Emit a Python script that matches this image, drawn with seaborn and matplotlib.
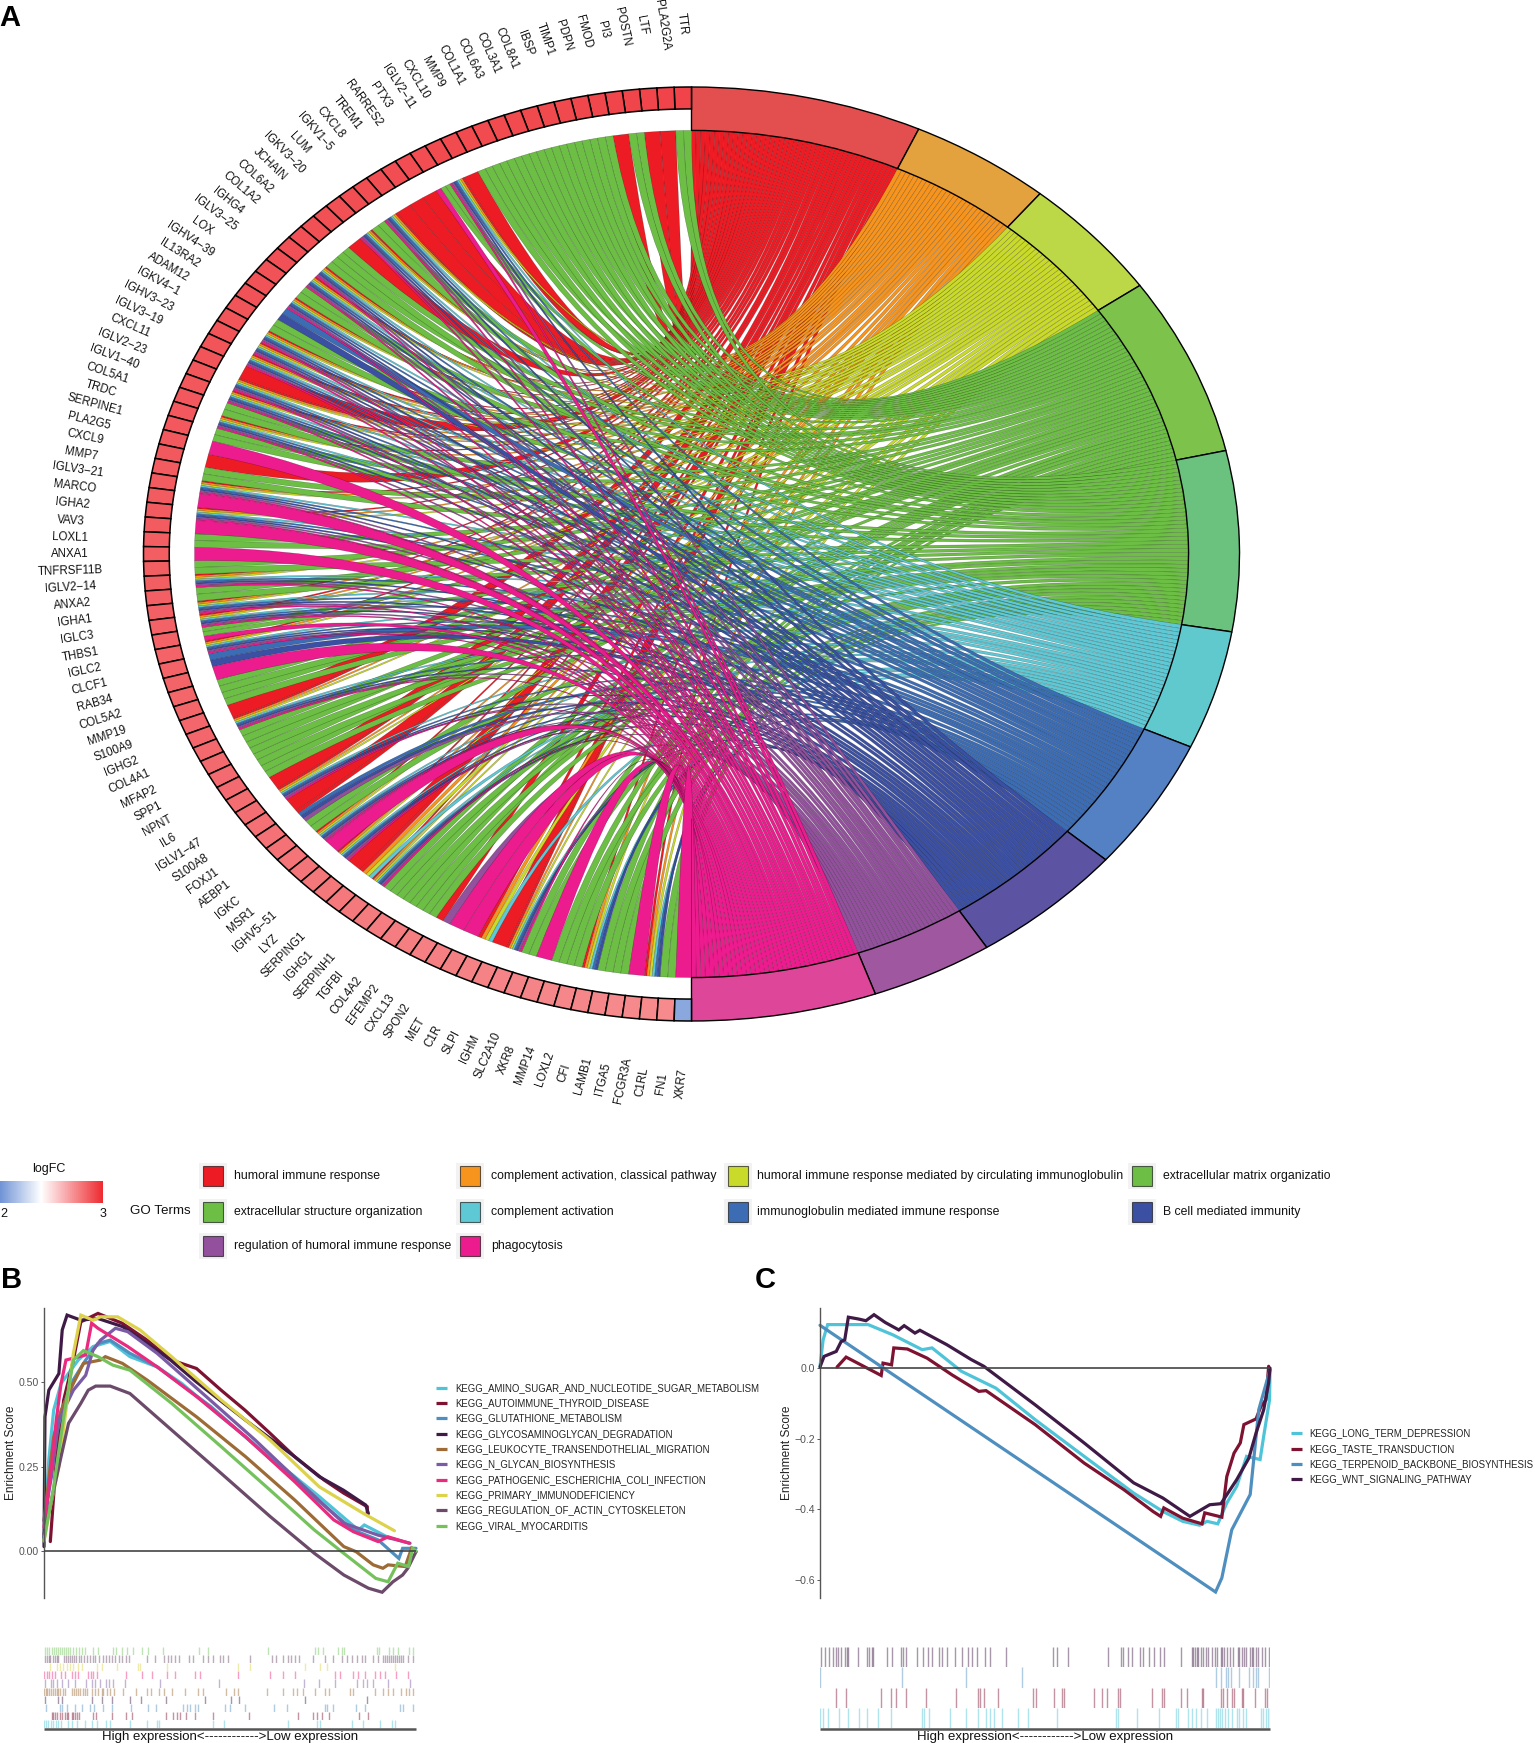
import numpy as np
import seaborn as sns
import matplotlib.pyplot as plt
from matplotlib.colors import LinearSegmentedColormap
from matplotlib.patches import PathPatch, Rectangle, Wedge
from matplotlib.path import Path

# ---- panel A data ----
terms = ["humoral immune response", "complement activation, classical pathway",
         "humoral immune response mediated by circulating immunoglobulin", "extracellular matrix organizatio",
         "extracellular structure organization", "complement activation", "immunoglobulin mediated immune response",
         "B cell mediated immunity", "regulation of humoral immune response", "phagocytosis"]
term_keys = "abcdefghij"
term_span = [24.5, 15.0, 15.4, 22.3, 22.4, 14.8, 16.5, 16.5, 13.0, 19.6]
ribbon_colors = ["#ED1C24", "#F7941D", "#C9DA2A", "#6CBE45", "#6CBE45", "#5FC8D5", "#3C6DB4", "#3C50A3", "#93509D", "#EC1C8E"]
arc_colors = ["#E34E4F", "#E4A23F", "#BDD847", "#7DC24A", "#6BC27E", "#60C9CE", "#5480C4", "#5D53A3", "#9F58A0", "#DE4799"]

ig = "abcfghij"
ecm = "de"
genes = ["TTR", "PLA2G2A", "LTF", "POSTN", "PI3", "FMOD", "PDPN", "TIMP1", "IBSP", "COL8A1",
         "COL3A1", "COL6A3", "COL1A1", "MMP9", "CXCL10", "IGLV2−11", "PTX3", "RARRES2", "TREM1", "CXCL8",
         "IGKV1−5", "LUM", "IGKV3−20", "JCHAIN", "COL6A2", "COL1A2", "IGHG4", "IGLV3−25", "LOX", "IGHV4−39",
         "IL13RA2", "ADAM12", "IGKV4−1", "IGHV3−23", "IGLV3−19", "CXCL11", "IGLV2−23", "IGLV1−40", "COL5A1", "TRDC",
         "SERPINE1", "PLA2G5", "CXCL9", "MMP7", "IGLV3−21", "MARCO", "IGHA2", "VAV3", "LOXL1", "ANXA1",
         "TNFRSF11B", "IGLV2−14", "ANXA2", "IGHA1", "IGLC3", "THBS1", "IGLC2", "CLCF1", "RAB34", "COL5A2",
         "MMP19", "S100A9", "IGHG2", "COL4A1", "MFAP2", "SPP1", "NPNT", "IL6", "IGLV1−47", "S100A8",
         "FOXJ1", "AEBP1", "IGKC", "MSR1", "IGHV5−51", "LYZ", "SERPING1", "IGHG1", "SERPINH1", "TGFBI",
         "COL4A2", "EFEMP2", "CXCL13", "SPON2", "MET", "C1R", "SLPI", "IGHM", "SLC2A10", "XKR8",
         "MMP14", "LOXL2", "CFI", "LAMB1", "ITGA5", "FCGR3A", "C1RL", "FN1", "XKR7"]
gene_terms = [ecm, "a", "a", ecm, "a", ecm, ecm, ecm, ecm, ecm,
              ecm, ecm, ecm, ecm, "a", ig, "dej", "a", "a", "a",
              ig, ecm, ig, "a", ecm, ecm, ig, ig, ecm, ig,
              "gh", ecm, ig, ig, ig, "a", ig, ig, ecm, ig,
              ecm, "j", "a", ecm, ig, "j", ig, "j", ecm, "j",
              ecm, ig, ecm, ig, ig, "dej", ig, "gh", "j", ecm,
              ecm, "a", ig, ecm, ecm, ecm, ecm, "a", ig, "a",
              "aghi", ecm, ig, "j", ig, "a", "abcf", ig, ecm, ecm,
              ecm, ecm, "ai", "j", "j", "abcf", "a", ig, ecm, "j",
              ecm, ecm, "abcfgh", ecm, ecm, "j", "abcfgh", ecm, "j"]
gene_logfc = [2.62, 2.61, 2.60, 2.60, 2.59, 2.58, 2.58, 2.57, 2.56, 2.56,
              2.55, 2.54, 2.54, 2.53, 2.52, 2.52, 2.51, 2.50, 2.50, 2.49,
              2.48, 2.48, 2.47, 2.46, 2.46, 2.45, 2.44, 2.44, 2.43, 2.42,
              2.42, 2.41, 2.40, 2.40, 2.39, 2.38, 2.37, 2.36, 2.35, 2.34,
              2.34, 2.33, 2.32, 2.31, 2.30, 2.29, 2.28, 2.28, 2.27, 2.26,
              2.25, 2.24, 2.23, 2.22, 2.21, 2.20, 2.19, 2.18, 2.17, 2.16,
              2.15, 2.14, 2.13, 2.12, 2.10, 2.08, 2.07, 2.06, 2.04, 2.02,
              2.00, 1.98, 1.96, 1.94, 1.92, 1.91, 1.90, 1.88, 1.86, 1.84,
              1.83, 1.82, 1.80, 1.79, 1.78, 1.76, 1.75, 1.74, 1.73, 1.72,
              1.71, 1.70, 1.69, 1.68, 1.67, 1.66, 1.65, 1.64, -1.60]

# ---- panel B data, x is % of ranked list ----
b_names = ["KEGG_AMINO_SUGAR_AND_NUCLEOTIDE_SUGAR_METABOLISM", "KEGG_AUTOIMMUNE_THYROID_DISEASE", "KEGG_GLUTATHIONE_METABOLISM",
           "KEGG_GLYCOSAMINOGLYCAN_DEGRADATION", "KEGG_LEUKOCYTE_TRANSENDOTHELIAL_MIGRATION", "KEGG_N_GLYCAN_BIOSYNTHESIS",
           "KEGG_PATHOGENIC_ESCHERICHIA_COLI_INFECTION", "KEGG_PRIMARY_IMMUNODEFICIENCY", "KEGG_REGULATION_OF_ACTIN_CYTOSKELETON",
           "KEGG_VIRAL_MYOCARDITIS"]
b_colors = ["#4FC4D8", "#7D1231", "#4F8FBF", "#3F1A46", "#9C6B36", "#7A5BA5", "#EA2A7E", "#DCD24B", "#6B4A6A", "#75C25D"]

amino_x = [0, 1.3, 2.6, 4.6, 9.2, 13.2, 17.8, 23.1, 30.4, 37, 47.6, 60.8, 74, 84.5, 86.1, 93.1]
amino_y = [.04, .27, .417, .496, .565, .605, .62, .575, .545, .496, .397, .279, .161, .062, .077, .037]
thyroid_x = [1.7, 3.3, 5.3, 7.9, 9.9, 14.5, 21, 27.7, 34.3, 41, 47.6, 54, 60.8, 67.4, 75.3, 80.6, 86.9, 86.9]
thyroid_y = [.028, .27, .447, .565, .678, .703, .674, .624, .565, .54, .476, .417, .348, .279, .21, .171, .131, .111]
gluta_x = [0, 2, 4.6, 7.3, 11.2, 14.5, 17.8, 23.1, 30.4, 44.9, 58.1, 71.3, 83.2, 89.8, 95.4, 96.4, 100]
gluta_y = [.03, .28, .407, .496, .565, .614, .624, .585, .545, .427, .299, .171, .062, .033, -.022, .008, .008]
gag_x = [0, .26, 1.3, 4, 4.9, 6.2, 9.9, 14.5, 21.1, 27, 34, 41, 54.2, 67.4, 74, 80.5, 86.5, 87.2]
gag_y = [.013, .397, .476, .525, .654, .698, .683, .688, .664, .62, .565, .50, .387, .279, .22, .18, .136, .111]
leuko_x = [0, 2.6, 4.6, 7.9, 10.6, 15.2, 16.5, 21.1, 27.7, 41, 54.2, 67.4, 80.6, 83.9, 88.5, 91.1, 92.5, 97.1, 98.8, 100]
leuko_y = [.09, .338, .417, .496, .555, .565, .575, .555, .506, .397, .279, .151, .013, -.002, -.041, -.051, -.041, -.046, .008, -.002]
nglycan_x = [0, 2, 4, 7.9, 11.2, 13.2, 15.2, 19.2, 22.5, 30.4, 43.6, 56.8, 70, 80.6, 89.8, 98.4]
nglycan_y = [.09, .22, .388, .476, .52, .595, .624, .659, .649, .585, .457, .328, .19, .082, .047, .023]
coli_x = [0, 2, 3.3, 4.6, 5.9, 11.2, 12.8, 14.5, 22.5, 30.4, 41, 54.2, 67.4, 77.9, 83.2, 89.8, 92.5, 98.2]
coli_y = [.07, .25, .388, .496, .565, .58, .674, .659, .605, .545, .457, .338, .205, .092, .057, .028, .042, .023]
primary_x = [0, 1.3, 4, 5.9, 7.9, 9.9, 13.2, 15.2, 19.8, 25.8, 34.3, 47.6, 60.8, 74, 85.9, 94.2]
primary_y = [.03, .11, .25, .417, .585, .698, .683, .693, .693, .654, .575, .447, .328, .19, .111, .06]
actin_x = [0, 2, 4.6, 6.6, 9.9, 11.9, 13.9, 17.8, 23.1, 34.3, 47.6, 60.8, 72.7, 80.6, 87.2, 90.9, 93.8, 96.4, 97.8, 100]
actin_y = [.05, .15, .28, .378, .437, .476, .488, .488, .466, .358, .23, .102, -.007, -.071, -.11, -.122, -.091, -.071, -.051, -.002]
viral_x = [0, 2.6, 5.3, 7.9, 10.6, 14.5, 18.5, 23.1, 34.3, 47.6, 60.8, 72.7, 80.6, 89.2, 92.5, 95.1, 98, 99.1, 100]
viral_y = [.03, .19, .397, .565, .593, .575, .55, .535, .437, .309, .18, .062, -.007, -.081, -.091, -.036, -.046, .008, 0]
b_x = [amino_x, thyroid_x, gluta_x, gag_x, leuko_x, nglycan_x, coli_x, primary_x, actin_x, viral_x]
b_y = [amino_y, thyroid_y, gluta_y, gag_y, leuko_y, nglycan_y, coli_y, primary_y, actin_y, viral_y]

# hit positions, in rank units (12 to 1128), same order as b_names
rug_amino = [12, 18, 25, 32, 40, 47, 55, 62, 85, 95, 112, 135, 155, 170, 198, 210, 270, 322, 350, 358, 518, 552, 745, 830, 840, 935, 970, 1020, 1055, 1065]
rug_thyroid = [35, 40, 45, 50, 60, 65, 75, 80, 85, 95, 100, 105, 112, 118, 160, 168, 215, 258, 275, 378, 400, 410, 420, 437, 465, 518, 628, 775, 820, 832, 845, 868, 958, 985]
rug_gluta = [18, 60, 65, 82, 105, 125, 150, 162, 188, 215, 272, 325, 348, 430, 440, 450, 465, 475, 555, 570, 615, 702, 742, 855, 862, 880, 948, 975, 1080, 1088, 1120]
rug_gag = [15, 55, 65, 155, 185, 215, 270, 302, 378, 495, 572, 597, 795, 982]
rug_leuko = [12, 17, 22, 27, 32, 38, 45, 50, 55, 60, 70, 75, 95, 102, 108, 115, 120, 128, 135, 140, 155, 165, 175, 185, 190, 200, 210, 222, 248, 288, 320, 332, 358, 372, 395, 435, 475, 488, 558, 582, 595, 680, 730, 760, 772, 790, 825, 855, 868, 930, 938, 1005, 1030, 1045, 1060, 1082, 1098, 1108, 1118]
rug_nglycan = [15, 32, 40, 50, 65, 85, 105, 138, 155, 165, 180, 198, 208, 220, 255, 360, 537, 792, 838, 885, 950, 968, 982, 1000, 1045, 1110]
rug_coli = [12, 20, 28, 36, 45, 62, 75, 95, 105, 115, 145, 152, 158, 170, 258, 305, 335, 380, 405, 465, 480, 595, 690, 730, 765, 885, 900, 940, 955, 975, 1005, 1020, 1035, 1068, 1105]
rug_primary = [30, 50, 60, 70, 80, 90, 98, 115, 125, 170, 185, 230, 295, 300, 380, 595, 630, 795, 840, 860, 1065]
rug_actin = [14, 20, 26, 30, 38, 44, 50, 55, 72, 78, 84, 90, 96, 102, 108, 116, 124, 132, 140, 150, 158, 166, 178, 190, 198, 206, 216, 226, 236, 246, 258, 268, 320, 345, 372, 385, 392, 405, 418, 448, 460, 490, 503, 520, 540, 548, 565, 630, 695, 708, 730, 745, 752, 765, 778, 820, 855, 880, 905, 920, 935, 950, 965, 975, 1000, 1015, 1030, 1036, 1042, 1048, 1054, 1060, 1066, 1072, 1078, 1084, 1090, 1105, 1118]
rug_viral = [14, 20, 28, 35, 42, 48, 54, 60, 66, 72, 78, 84, 90, 98, 108, 118, 125, 135, 160, 175, 218, 228, 245, 260, 280, 305, 325, 370, 478, 505, 683, 825, 835, 850, 895, 905, 912, 1010, 1018, 1047, 1060, 1075, 1108, 1120]
b_rugs = [rug_amino, rug_thyroid, rug_gluta, rug_gag, rug_leuko, rug_nglycan, rug_coli, rug_primary, rug_actin, rug_viral]

# ---- panel C data ----
c_names = ["KEGG_LONG_TERM_DEPRESSION", "KEGG_TASTE_TRANSDUCTION", "KEGG_TERPENOID_BACKBONE_BIOSYNTHESIS", "KEGG_WNT_SIGNALING_PATHWAY"]
c_colors = ["#4FC4D8", "#7D1231", "#4F8FBF", "#3F1A46"]
ltd_x = [0, .7, 1.7, 5.8, 10.7, 16.2, 22.7, 24.9, 31.4, 39.1, 47.8, 58.7, 69.7, 76.2, 80.6, 84.4, 86, 88.4, 90.4, 92.6, 94.8, 97.8, 98.6, 99.9, 100]
ltd_y = [.005, .08, .123, .123, .123, .094, .052, .057, -.009, -.057, -.146, -.25, -.354, -.406, -.434, -.445, -.434, -.441, -.382, -.335, -.25, -.259, -.193, -.09, -.005]
taste_x = [3.8, 5.8, 13.6, 14, 15.9, 16.4, 19.4, 23.8, 29.3, 35.3, 36.9, 47.8, 58.7, 67.5, 74, 75.7, 76.4, 80.6, 84.9, 85.5, 89.3, 90.4, 92, 93.4, 94.2, 96.9, 98, 99.1, 99.7]
taste_y = [.003, .031, -.021, .014, .009, .057, .054, .028, -.019, -.066, -.064, -.16, -.269, -.344, -.406, -.42, -.396, -.425, -.441, -.41, -.422, -.307, -.241, -.212, -.16, -.144, -.108, -.09, .005]
terp_x = [0, 87.9, 89.3, 91.5, 95.6, 97.5, 100]
terp_y = [.121, -.634, -.594, -.458, -.358, -.118, -.005]
wnt_x = [0, .9, 3.6, 4.7, 5.5, 6.3, 8.5, 10.2, 12, 14.5, 17.5, 18.7, 21.1, 22.2, 28.2, 33.6, 36.4, 47.8, 58.7, 69.7, 76.2, 82.2, 83.8, 86.6, 89.1, 90.9, 92.6, 95.3, 96.9, 98.6, 99.7, 100]
wnt_y = [.003, .033, .047, .075, .08, .144, .139, .134, .151, .129, .108, .12, .099, .107, .066, .024, .005, -.104, -.212, -.325, -.368, -.42, -.408, -.387, -.384, -.349, -.316, -.255, -.184, -.118, -.042, 0]
c_x = [ltd_x, taste_x, terp_x, wnt_x]
c_y = [ltd_y, taste_y, terp_y, wnt_y]

# rank units 15 to 1365
rug_ltd = [15, 25, 38, 73, 100, 132, 155, 190, 228, 320, 328, 343, 405, 453, 488, 512, 525, 538, 560, 610, 640, 725, 902, 910, 967, 1033, 1083, 1090, 1118, 1132, 1142, 1158, 1175, 1202, 1208, 1215, 1222, 1230, 1240, 1250, 1265, 1272, 1285, 1292, 1338, 1345, 1352, 1358, 1365]
rug_taste = [63, 92, 198, 228, 242, 274, 332, 424, 488, 495, 508, 550, 655, 662, 718, 742, 748, 836, 862, 876, 908, 916, 1012, 1040, 1046, 1098, 1115, 1160, 1165, 1218, 1225, 1235, 1250, 1258, 1280, 1285, 1320, 1350, 1356]
rug_terp = [15, 262, 453, 622, 1203, 1218, 1232, 1240, 1248, 1272, 1303, 1315, 1322, 1330, 1362]
rug_wnt = [18, 30, 42, 55, 62, 70, 78, 90, 95, 100, 128, 155, 162, 170, 175, 215, 230, 258, 265, 272, 305, 325, 340, 350, 372, 380, 395, 420, 440, 460, 470, 485, 510, 525, 572, 715, 725, 760, 878, 918, 925, 940, 950, 975, 985, 1003, 1018, 1035, 1048, 1098, 1130, 1135, 1140, 1145, 1150, 1158, 1165, 1172, 1180, 1190, 1200, 1205, 1218, 1222, 1228, 1235, 1245, 1255, 1268, 1272, 1280, 1288, 1292, 1305, 1310, 1315, 1322, 1328, 1340, 1350, 1362]
c_rugs = [rug_ltd, rug_taste, rug_terp, rug_wnt]

sns.set_theme(style="white")
plt.rcParams['font.family'] = ['Liberation Sans', 'DejaVu Sans']

W, H = 1535, 1743
fig = plt.figure(figsize=(W / 100, H / 100), dpi=100)


def px_axes(left, top, right, bottom):
    return fig.add_axes([left / W, 1 - bottom / H, (right - left) / W, (bottom - top) / H])


# overlay in pixel coordinates for legends and loose text
pg = px_axes(0, 0, W, H)
pg.set_xlim(0, W)
pg.set_ylim(H, 0)
pg.axis("off")

# ---- A: chord plot, unit circle stretched to an ellipse by the axes ----
cx, cy, rx, ry = 691.5, 554, 548, 467
ax = px_axes(0, 0, W, 1140)
ax.set_xlim((0 - cx) / rx, (W - cx) / rx)
ax.set_ylim((cy - 1140) / ry, cy / ry)
ax.axis("off")
ax.patch.set_alpha(0)

r_rib, r_box, r_out, r_lab = 0.907, 0.953, 1.0, 1.135
# white sits at logFC 0, scale runs -2 to 3
fc_cmap = LinearSegmentedColormap.from_list("fc", [(0, "#6F93D6"), (0.4, "#FFFFFF"), (1, "#EE2A30")], N=256)


def fc_color(v):
    return fc_cmap((v + 2) / 5)


def pt(theta, r):
    t = np.radians(theta)
    return (r * np.sin(t), r * np.cos(t))


n = len(genes)
slot = 180.0 / n
term_start = np.concatenate([[0], np.cumsum(term_span)[:-1]])
term_count = [sum(k in g for g in gene_terms) for k in term_keys]
term_used = [0] * len(terms)

# collect ribbons first, they are drawn term by term so phagocytosis ends on top
ribbons = []
for i, members in enumerate(gene_terms):
    width = slot / len(members)
    for j, key in enumerate(members):
        t = term_keys.index(key)
        g0 = -(i * slot + j * width)
        g1 = g0 - width
        step = term_span[t] / term_count[t]
        b0 = term_start[t] + term_used[t] * step
        b1 = b0 + step
        term_used[t] += 1
        ribbons.append((t, g0, g1, b0, b1))

ribbons.sort(key=lambda r: r[0])
for t, g0, g1, b0, b1 in ribbons:
    verts = [pt(g0, r_rib), (0, 0), pt(b0, r_rib), pt(b1, r_rib), (0, 0), pt(g1, r_rib), pt(g0, r_rib)]
    codes = [Path.MOVETO, Path.CURVE3, Path.CURVE3, Path.LINETO, Path.CURVE3, Path.CURVE3, Path.CLOSEPOLY]
    ax.add_patch(PathPatch(Path(verts, codes), facecolor=ribbon_colors[t], edgecolor=(0, 0, 0, 0.34), lw=0.35))

for t, span in enumerate(term_span):
    a0 = 90 - term_start[t] - span
    ax.add_patch(Wedge((0, 0), r_out, a0, a0 + span, width=r_out - r_rib, facecolor=arc_colors[t], edgecolor="black", lw=1.0))

for i, (name, fc) in enumerate(zip(genes, gene_logfc)):
    a0 = 90 + i * slot
    ax.add_patch(Wedge((0, 0), r_out, a0, a0 + slot, width=r_out - r_box, facecolor=fc_color(fc), edgecolor="black", lw=1.1))
    theta = (i + 0.5) * slot
    x, y = pt(-theta, r_lab)
    ax.text(x, y, name, rotation=-(90 - theta) * 0.93, rotation_mode="anchor", ha="center", va="center",
            fontsize=8.3, color="#111111", clip_on=False)

pg.text(-1, 18, "A", fontsize=21, fontweight="bold", va="center", color="black")

# ---- A: legends ----
grad = px_axes(0, 1181, 103, 1203)
sns.heatmap(np.linspace(-2, 3, 256)[None, :], cmap=fc_cmap, vmin=-2, vmax=3, cbar=False,
            xticklabels=False, yticklabels=False, ax=grad)
pg.text(49, 1169, "logFC", fontsize=9, ha="center", va="center", color="#111111")
pg.text(0, 1214, "2", fontsize=9, ha="left", va="center", color="#111111")
pg.text(103, 1214, "3", fontsize=9, ha="center", va="center", color="#111111")
pg.text(130, 1211, "GO Terms", fontsize=9.6, ha="left", va="center", color="#111111")

key_x = [203, 460, 728, 1132]
text_x = [234, 491, 757, 1163]
key_y = [1166, 1202, 1236]
order = [(0, 0, 0), (1, 0, 1), (2, 0, 2), (3, 0, 3), (4, 1, 0), (5, 1, 1), (6, 1, 2), (7, 1, 3), (8, 2, 0), (9, 2, 1)]
for t, row, col in order:
    pg.add_patch(Rectangle((key_x[col] - 4, key_y[row] - 3), 28, 26, facecolor="#F2F2F2", edgecolor="none"))
    pg.add_patch(Rectangle((key_x[col], key_y[row]), 20, 20, facecolor=ribbon_colors[t], edgecolor=(0, 0, 0, 0.6), lw=0.8))
    pg.text(text_x[col], key_y[row] + 10, terms[t], fontsize=8.85, va="center", color="#111111")


# ---- B and C: running score panels ----
def gsea_panel(left, right, ylim, yticks, ticklabels, xs, ys, colors):
    a = px_axes(left, 1308, right, 1598)
    for x, y, c in zip(xs, ys, colors):
        sns.lineplot(x=x, y=y, color=c, lw=2.3, estimator=None, sort=False, ax=a, clip_on=False, solid_joinstyle="miter")
    a.axhline(0, color="#444444", lw=1.2, zorder=5)
    a.set_xlim(0, 100)
    a.set_ylim(*ylim)
    a.set_xticks([])
    a.set_yticks(yticks)
    a.set_yticklabels(ticklabels, fontsize=7.6, color="#555555")
    a.tick_params(axis="y", left=True, length=2, width=0.7, color="#555555", pad=1.5)
    sns.despine(ax=a, bottom=True)
    a.spines["left"].set_color("#555555")
    a.spines["left"].set_linewidth(1.0)
    a.patch.set_alpha(0)
    return a


def rug_rows(left, right, top, bottom, rugs, colors, lims):
    h = (bottom - top) / len(rugs)
    # first series is the lowest row
    for k, (vals, c) in enumerate(zip(rugs, colors)):
        row_bottom = bottom - k * h
        a = px_axes(left, row_bottom - h, right, row_bottom)
        a.set_xlim(*lims)
        sns.rugplot(x=vals, height=1, color=c, lw=1.0, alpha=0.45, ax=a)
        a.set_xlim(*lims)
        a.axis("off")
    pg.plot([left, right], [bottom + 1, bottom + 1], color="#555555", lw=1.8, solid_capstyle="butt")


gsea_panel(44, 416, (-0.139, 0.719), [0, 0.25, 0.5], ["0.00", "0.25", "0.50"], b_x, b_y, b_colors)
rug_rows(44, 416, 1647, 1728, b_rugs, b_colors, (12, 1128))
gsea_panel(820, 1270, (-0.651, 0.17), [-0.6, -0.4, -0.2, 0], ["−0.6", "−0.4", "−0.2", "0.0"], c_x, c_y, c_colors)
rug_rows(820, 1270, 1647, 1728, c_rugs, c_colors, (15, 1365))

pg.text(1, 1280, "B", fontsize=21, fontweight="bold", va="center", color="black")
pg.text(755, 1280, "C", fontsize=21, fontweight="bold", va="center", color="black")
pg.text(11, 1453, "Enrichment Score", rotation=90, fontsize=8.6, ha="center", va="center", color="#222222")
pg.text(787, 1453, "Enrichment Score", rotation=90, fontsize=8.6, ha="center", va="center", color="#222222")
pg.text(230, 1737, "High expression<------------>Low expression", fontsize=9.5, ha="center", va="center", color="#111111")
pg.text(1045, 1737, "High expression<------------>Low expression", fontsize=9.5, ha="center", va="center", color="#111111")

# legends drawn by hand so the rows land where they should
for k, (name, c) in enumerate(zip(b_names, b_colors)):
    y = 1387.7 + k * 15.33
    pg.plot([436, 447], [y, y], color=c, lw=2.3, solid_capstyle="butt")
    pg.text(455, y, name, fontsize=6.93, va="center", color="#222222")
for k, (name, c) in enumerate(zip(c_names, c_colors)):
    y = 1433.3 + k * 15.33
    pg.plot([1290.5, 1302], [y, y], color=c, lw=2.3, solid_capstyle="butt")
    pg.text(1309, y, name, fontsize=6.93, va="center", color="#222222")

fig.savefig("out.png", dpi=100)
